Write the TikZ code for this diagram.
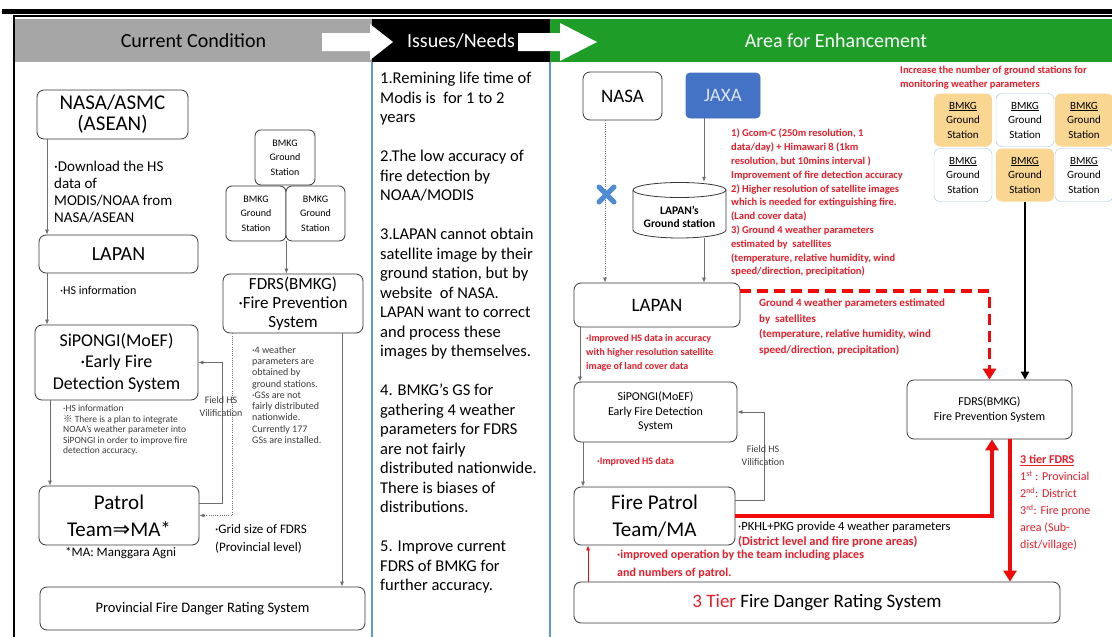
\documentclass[tikz,border=0pt]{standalone}
\usepackage{fontspec}
\setmainfont{Carlito}
\newfontfamily\cjk{Noto Sans CJK JP}
\newfontfamily\djv{DejaVu Sans}
\usetikzlibrary{arrows.meta,calc}
\definecolor{hdrgray}{RGB}{166,166,166}
\definecolor{hdrgreen}{RGB}{30,158,40}
\definecolor{sepblue}{RGB}{91,155,213}
\definecolor{redtxt}{RGB}{232,30,42}
\definecolor{redln}{RGB}{240,10,10}
\definecolor{boxln}{RGB}{55,55,55}
\definecolor{conngray}{RGB}{110,110,110}
\definecolor{notegray}{RGB}{60,60,60}
\definecolor{jaxablue}{RGB}{68,114,196}
\definecolor{jaxatxt}{RGB}{220,230,248}
\definecolor{gsorange}{RGB}{249,214,145}
\definecolor{gsblue}{RGB}{157,195,230}
\definecolor{xblue}{RGB}{80,140,210}
\newcommand\myfs[2]{\fontsize{#1}{#2}\selectfont}
\newcommand\jp[1]{{\cjk #1}}
\begin{document}
\begin{tikzpicture}[x=1pt,y=-1pt,
  box/.style={draw=boxln, line width=0.8pt, rounded corners=7pt, align=center, inner sep=0pt, fill=white},
  hdr/.style={minimum height=43pt, inner sep=0pt, font=\myfs{20}{24}},
  conn/.style={draw=conngray, line width=0.7pt, -{Latex[length=5pt,width=4pt]}},
  dotconn/.style={conn, dash pattern=on 1pt off 1.2pt},
  redthick/.style={draw=redln, line width=3.5pt, -{Triangle[length=11pt,width=13pt]}},
  reddash/.style={redthick, dash pattern=on 11pt off 6pt},
  blkthick/.style={draw=black, line width=2.4pt, -{Triangle[length=8pt,width=8pt]}},
  redthin/.style={draw=redln, line width=0.8pt, -{Latex[length=5pt,width=4pt]}},
  gsl/.style={box, rounded corners=6pt, font=\myfs{10}{14.5}},
  gsr/.style={rounded corners=6pt, minimum width=58pt, minimum height=53pt, align=center, inner sep=0pt, font=\myfs{11}{14.5}},
  txt/.style={anchor=north west, align=left, inner sep=0pt},
  redb/.style={txt, text=redtxt, font=\bfseries}
]
\useasboundingbox (0,0) rectangle (1112,637);
\fill[white] (0,0) rectangle (1112,637);
% top rules and frame
\fill[black] (2,9) rectangle (1112,14);
\draw[line width=1.2pt] (13,16) -- (1112,16);
\draw[line width=2.4pt] (14,16) -- (14,637);
% headers
\node[hdr, fill=hdrgray, minimum width=357pt, text=black] (hCur) at (193.5,40.5) {Current Condition};
\node[hdr, fill=black, minimum width=178pt, text=white] (hIss) at (461,40.5) {Issues/Needs};
\node[hdr, fill=hdrgreen, minimum width=562pt, text=white] (hArea) at (831,40.5) {\hspace{10pt}Area for Enhancement};
\fill[white] (322,33) -- (370,33) -- (370,24) -- (393,42) -- (370,60) -- (370,51) -- (322,51) -- cycle;
\fill[white] (518,33) -- (560,33) -- (560,23) -- (597,42) -- (560,61) -- (560,51) -- (518,51) -- cycle;
% separators
\draw[sepblue, line width=1.5pt] (372,62) -- (372,637);
\draw[sepblue, line width=1.5pt] (550,62) -- (550,637);

% ================= LEFT COLUMN =================
\node[box, minimum width=151pt, minimum height=49pt, font=\myfs{21}{21}] (nasaL) at (112.5,114.5) {NASA/ASMC\\(ASEAN)};
\node[box, minimum width=159pt, minimum height=38pt, font=\myfs{20}{22}] (lapanL) at (118.5,254) {LAPAN};
\node[box, minimum width=163pt, minimum height=75pt, font=\myfs{18}{21.5}] (sipL) at (116.5,362.5) {SiPONGI(MoEF)\\·Early Fire\\Detection System};
\node[box, minimum width=160pt, minimum height=59pt, font=\myfs{21}{27}] (patrolL) at (119,515.5) {Patrol\\Team{\djv ⇒}MA*};
\node[box, minimum width=140pt, minimum height=59pt, font=\myfs{17}{19}] (fdrsL) at (293,303.5) {FDRS(BMKG)\\·Fire Prevention\\System};
\node[gsl, minimum width=60pt, minimum height=55pt] (gsL1) at (285,157.5) {BMKG\\Ground\\Station};
\node[gsl, minimum width=60pt, minimum height=55pt] (gsL2) at (256,213.5) {BMKG\\Ground\\Station};
\node[gsl, minimum width=59pt, minimum height=55pt] (gsL3) at (315.5,213.5) {BMKG\\Ground\\Station};
\node[box, minimum width=325pt, minimum height=43pt, font=\myfs{14.5}{17}] (provL) at (202.5,608.5) {Provincial Fire Danger Rating System};

\coordinate (xA) at (47,0);
\coordinate (xB) at (50,0);
\coordinate (xC) at (232,0);
\coordinate (xD) at (342,0);
\draw[conn] (nasaL.south -| xA) -- (lapanL.north -| xA);
\draw[conn] (lapanL.south -| xA) -- (sipL.north -| xA);
\draw[conn] (sipL.south -| xB) -- (patrolL.north -| xB);
\draw[conn] ([yshift=12.5pt]patrolL.east) -- ++(23,0) |- (sipL.east);
\draw[dotconn] (fdrsL.south -| xC) |- (patrolL.east);
\draw[conn] (gsL2.south east) -- (fdrsL.north -| gsL2.south east);
\draw[conn] (fdrsL.south -| xD) -- (provL.north -| xD);

\node[txt, font=\myfs{15}{17}] (tDown) at (54,161) {·Download the HS\\data of\\MODIS/NOAA from\\NASA/ASEAN};
\node[txt, font=\myfs{12}{14}] (tHS1) at (60,286) {·HS information};
\node[txt, text=notegray, font=\myfs{9.5}{10.5}] (tNote) at (63,405) {·HS information\\\jp{※} There is a plan to integrate\\NOAA's weather parameter into\\SiPONGI in order to improve fire\\detection accuracy.};
\node[txt, font=\myfs{13}{15}] (tMA) at (65,547) {*MA: Manggara Agni};
\node[align=center, inner sep=0pt, text=notegray, font=\myfs{10}{13}] (tFieldL) at (221,407) {Field HS\\Vilification};
\node[txt, text=notegray, font=\myfs{10}{11.3}] (tWeather) at (252,346) {·4 weather\\parameters are\\obtained by\\ground stations.\\·GSs are not\\fairly distributed\\nationwide.\\Currently 177\\GSs are installed.};
\node[txt, font=\myfs{13}{18}] (tGrid) at (215,524) {·Grid size of FDRS\\(Provincial level)};

% ================= MIDDLE COLUMN =================
\node[txt, font=\myfs{16.5}{19.5}] (tIssues) at (380,72) {1.Remining life time of\\Modis is\ \ for 1 to 2\\years\\[19.5pt]2.The low accuracy of\\fire detection by\\NOAA/MODIS\\[19.5pt]3.LAPAN cannot obtain\\satellite image by their\\ground station, but by\\website\ \ of NASA.\\LAPAN want to correct\\and process these\\images by themselves.\\[19.5pt]4. BMKG's GS for\\gathering 4 weather\\parameters for FDRS\\are not fairly\\distributed nationwide.\\There is biases of\\distributions.\\[19.5pt]5. Improve current\\FDRS of BMKG for\\further accuracy.};

% ================= RIGHT COLUMN =================
\node[box, minimum width=79pt, minimum height=48pt, font=\myfs{19}{22}] (nasaR) at (622.5,96) {NASA};
\node[box, rounded corners=4pt, draw=jaxablue, fill=jaxablue, text=jaxatxt, minimum width=74pt, minimum height=45pt, font=\myfs{19}{22}] (jaxa) at (723,95.5) {JAXA};
% cylinder
\node[minimum width=93pt, minimum height=56pt, inner sep=0pt] (cyl) at (679.5,210) {};
\draw[boxln, line width=0.8pt, fill=white] (633,190) -- (633,230) arc[start angle=180, end angle=360, x radius=46.5pt, y radius=8pt] -- (726,190);
\draw[boxln, line width=0.8pt, fill=white] (679.5,190) ellipse[x radius=46.5pt, y radius=7.5pt];
\node[align=center, inner sep=0pt, font=\myfs{11.5}{13.5}\bfseries] (tCyl) at (679.5,217) {LAPAN's\\Ground station};

\node[box, minimum width=166pt, minimum height=44pt, font=\myfs{19}{22}] (lapanR) at (657,305) {LAPAN};
\node[box, minimum width=163pt, minimum height=60pt, font=\myfs{12}{14.5}] (sipR) at (655.5,412) {SiPONGI(MoEF)\\Early Fire Detection\\System};
\node[box, minimum width=161pt, minimum height=58pt, font=\myfs{21}{27}] (patrolR) at (654.5,516) {Fire Patrol\\Team/MA};
\node[box, minimum width=486pt, minimum height=41pt, font=\myfs{19}{22}] (tier) at (817,602.5) {{\color{redtxt}3 Tier} Fire Danger Rating System};
\node[box, minimum width=165pt, minimum height=59pt, font=\myfs{12}{15}] (fdrsR) at (989.5,409.5) {FDRS(BMKG)\\Fire Prevention System};

\node[gsr, fill=gsorange] (gs1) at (963,120) {\underline{BMKG}\\Ground\\Station};
\node[gsr, fill=white, draw=gsblue] (gs2) at (1025,120) {\underline{BMKG}\\Ground\\Station};
\node[gsr, fill=gsorange] (gs3) at (1084,120) {\underline{BMKG}\\Ground\\Station};
\node[gsr, fill=white, draw=gsblue] (gs4) at (963,175) {\underline{BMKG}\\Ground\\Station};
\node[gsr, fill=gsorange] (gs5) at (1025,175) {\underline{BMKG}\\Ground\\Station};
\node[gsr, fill=white, draw=gsblue] (gs6) at (1084,175) {\underline{BMKG}\\Ground\\Station};

\coordinate (xN) at (605,0);
\coordinate (xJ) at (704,0);
\coordinate (xL) at (580,0);
\coordinate (xS) at (583,0);
\coordinate (xR) at (992,0);
\coordinate (xT) at (1010,0);
\coordinate (xU) at (588,0);
\draw[dotconn] (nasaR.south -| xN) -- (lapanR.north -| xN);
\draw[xblue, line width=5pt, line cap=round] (599,187) -- (614,202) (599,202) -- (614,187);
\draw[conn] (jaxa.south -| xJ) -- (cyl.north -| xJ);
\draw[conn] (cyl.south -| xJ) -- (lapanR.north -| xJ);
\draw[conn] (lapanR.south -| xL) -- (sipR.north -| xL);
\draw[conn] (sipR.south -| xS) -- (patrolR.north -| xS);
\draw[conn] ([yshift=16pt]patrolR.east) -- ++(29,0) |- (sipR.east);
\draw[redthick] (patrolR.east) -| (fdrsR.south -| xR);
\draw[reddash] ([yshift=14pt]lapanR.east) -| (fdrsR.north);
\draw[blkthick] (gs5.south) -- (gs5.south |- fdrsR.north);
\draw[redthick] (fdrsR.south -| xT) -- (tier.north -| xT);
\draw[redthin] (tier.north -| xU) -- (patrolR.south -| xU);

\node[redb, font=\myfs{10.5}{13.5}\bfseries] (tIncr) at (900,66) {Increase the number of ground stations for\\monitoring weather parameters};
\node[redb, font=\myfs{10.5}{13.8}\bfseries] (tList) at (731,129) {1) Gcom-C (250m resolution, 1\\data/day) + Himawari 8 (1km\\resolution, but 10mins interval )\\Improvement of fire detection accuracy\\2) Higher resolution of satellite images\\which is needed for extinguishing fire.\\(Land cover data)\\3) Ground 4 weather parameters\\estimated by\ \ satellites\\(temperature, relative humidity, wind\\speed/direction, precipitation)};
\node[redb, font=\myfs{11}{15.5}\bfseries] (tG4) at (759,299) {Ground 4 weather parameters estimated\\by\ \ satellites\\(temperature, relative humidity, wind\\speed/direction, precipitation)};
\node[redb, font=\myfs{10}{14}\bfseries] (tImpHS) at (586,334) {·Improved HS data in accuracy\\with higher resolution satellite\\image of land cover data};
\node[redb, font=\myfs{10}{14}\bfseries] (tImpHS2) at (597,457) {·Improved HS data};
\node[align=center, inner sep=0pt, text=notegray, font=\myfs{10}{13}] (tFieldR) at (763,456) {Field HS\\Vilification};
\node[txt, font=\myfs{12.5}{15}] (tPKHL) at (738,522) {·PKHL+PKG provide 4 weather parameters};
\node[redb, font=\myfs{12.5}{15}\bfseries] (tDist) at (738,536) {(District level and fire prone areas)};
\node[redb, font=\myfs{12}{17.5}\bfseries] (tOper) at (617,550) {·improved operation by the team including places\\and numbers of patrol.};
\node[txt, text=redtxt, font=\myfs{12}{17}] (tTier) at (1020,455) {\textbf{\underline{3 tier FDRS}}\\1\textsuperscript{st} : Provincial\\2\textsuperscript{nd}: District\\3\textsuperscript{rd}: Fire prone\\area (Sub-\\dist/village)};
\end{tikzpicture}
\end{document}
